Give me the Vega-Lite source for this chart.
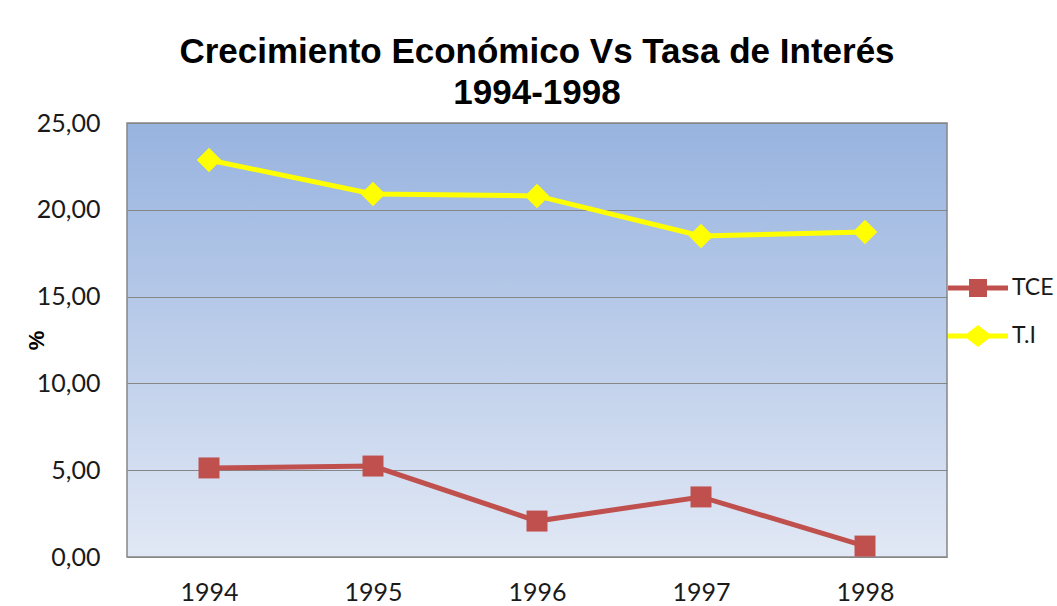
{
  "$schema": "https://vega.github.io/schema/vega-lite/v6.json",
  "width": 820,
  "height": 434,
  "autosize": {"type": "none"},
  "padding": {"left": 127, "top": 123, "right": 110, "bottom": 49},
  "background": "white",
  "config": {
    "locale": {"number": {"decimal": ",", "thousands": ".", "grouping": [3], "currency": ["", " €"]}},
    "view": {"stroke": "#868686", "strokeWidth": 1.5, "fill": {"gradient": "linear", "x1": 0, "x2": 0, "y1": 0, "y2": 1, "stops": [{"offset": 0, "color": "#97B3DF"}, {"offset": 1, "color": "#E1E8F5"}]}},
    "axis": {"labelFont": "Lato", "labelColor": "#1a1a1a", "domain": false, "ticks": false, "gridColor": "#868686", "gridWidth": 1.2, "gridOpacity": 1}
  },
  "title": {
    "text": ["Crecimiento Económico Vs Tasa de Interés", "1994-1998"],
    "font": "Liberation Sans",
    "fontSize": 35,
    "fontWeight": "bold",
    "color": "#000000",
    "anchor": "middle",
    "lineHeight": 41,
    "offset": 0
  },
  "datasets": {
    "main": [
      {"year": "1994", "serie": "TCE", "value": 5.13},
      {"year": "1995", "serie": "TCE", "value": 5.24},
      {"year": "1996", "serie": "TCE", "value": 2.07},
      {"year": "1997", "serie": "TCE", "value": 3.46},
      {"year": "1998", "serie": "TCE", "value": 0.63},
      {"year": "1994", "serie": "T.I", "value": 22.87},
      {"year": "1995", "serie": "T.I", "value": 20.91},
      {"year": "1996", "serie": "T.I", "value": 20.8},
      {"year": "1997", "serie": "T.I", "value": 18.49},
      {"year": "1998", "serie": "T.I", "value": 18.72}
    ]
  },
  "layer": [
    {
      "data": {"name": "main"},
      "mark": {"type": "line", "strokeWidth": 5},
      "encoding": {
        "x": {"field": "year", "type": "ordinal", "scale": {"padding": 0.5}, "axis": {"title": null, "labelAngle": 0, "labelFontSize": 25, "labelPadding": 23, "grid": false}},
        "y": {"field": "value", "type": "quantitative", "scale": {"domain": [0, 25], "nice": false}, "axis": {"values": [0, 5, 10, 15, 20, 25], "format": ".2f", "labelFontSize": 25, "labelPadding": 27, "grid": true, "title": "%", "titleFont": "Liberation Sans", "titleFontSize": 22, "titleFontWeight": "bold", "titleColor": "#000000", "titlePadding": -12}},
        "color": {"field": "serie", "type": "nominal", "scale": {"domain": ["TCE", "T.I"], "range": ["#C0504D", "#FFFF00"]}, "legend": null}
      }
    },
    {
      "data": {"name": "main"},
      "mark": {"type": "point", "filled": true, "opacity": 1, "strokeWidth": 0},
      "encoding": {
        "x": {"field": "year", "type": "ordinal"},
        "y": {"field": "value", "type": "quantitative"},
        "color": {"field": "serie", "type": "nominal", "scale": {"domain": ["TCE", "T.I"], "range": ["#C0504D", "#FFFF00"]}, "legend": null},
        "shape": {"field": "serie", "type": "nominal", "scale": {"domain": ["TCE", "T.I"], "range": ["square", "diamond"]}, "legend": null},
        "size": {"condition": {"test": "datum.serie === 'T.I'", "value": 600}, "value": 440}
      }
    },
    {
      "data": {"name": "main"},
      "mark": {"type": "point", "filled": true, "opacity": 0, "strokeWidth": 0, "size": 900},
      "encoding": {
        "x": {"field": "year", "type": "ordinal"},
        "y": {"field": "value", "type": "quantitative"},
        "color": {"field": "serie", "type": "nominal", "scale": {"domain": ["TCE", "T.I"], "range": ["#C0504D", "#FFFF00"]},
          "legend": {"title": null, "orient": "none", "legendX": 836, "legendY": 150, "padding": 0, "symbolSize": 900, "symbolOpacity": 1, "symbolStrokeWidth": 0, "labelFont": "Lato", "labelFontSize": 23, "labelColor": "#1a1a1a", "labelOffset": 19, "rowPadding": 21,
            "encode": {"symbols": {"update": {"opacity": {"value": 1}, "fillOpacity": {"value": 1}}}}}},
        "shape": {"field": "serie", "type": "nominal", "scale": {"domain": ["TCE", "T.I"], "range": ["M-2,-0.17H-0.6V-0.6H0.6V-0.17H2V0.17H0.6V0.6H-0.6V0.17H-2Z", "M-2,-0.17H-0.73L0,-0.73L0.73,-0.17H2V0.17H0.73L0,0.73L-0.73,0.17H-2Z"]},
          "legend": {"title": null, "orient": "none", "legendX": 836, "legendY": 150, "padding": 0, "symbolSize": 900, "symbolOpacity": 1, "symbolStrokeWidth": 0, "labelFont": "Lato", "labelFontSize": 23, "labelColor": "#1a1a1a", "labelOffset": 19, "rowPadding": 21,
            "encode": {"symbols": {"update": {"opacity": {"value": 1}, "fillOpacity": {"value": 1}}}}}}
      }
    }
  ],
  "resolve": {"scale": {"color": "independent", "shape": "independent"}}
}
